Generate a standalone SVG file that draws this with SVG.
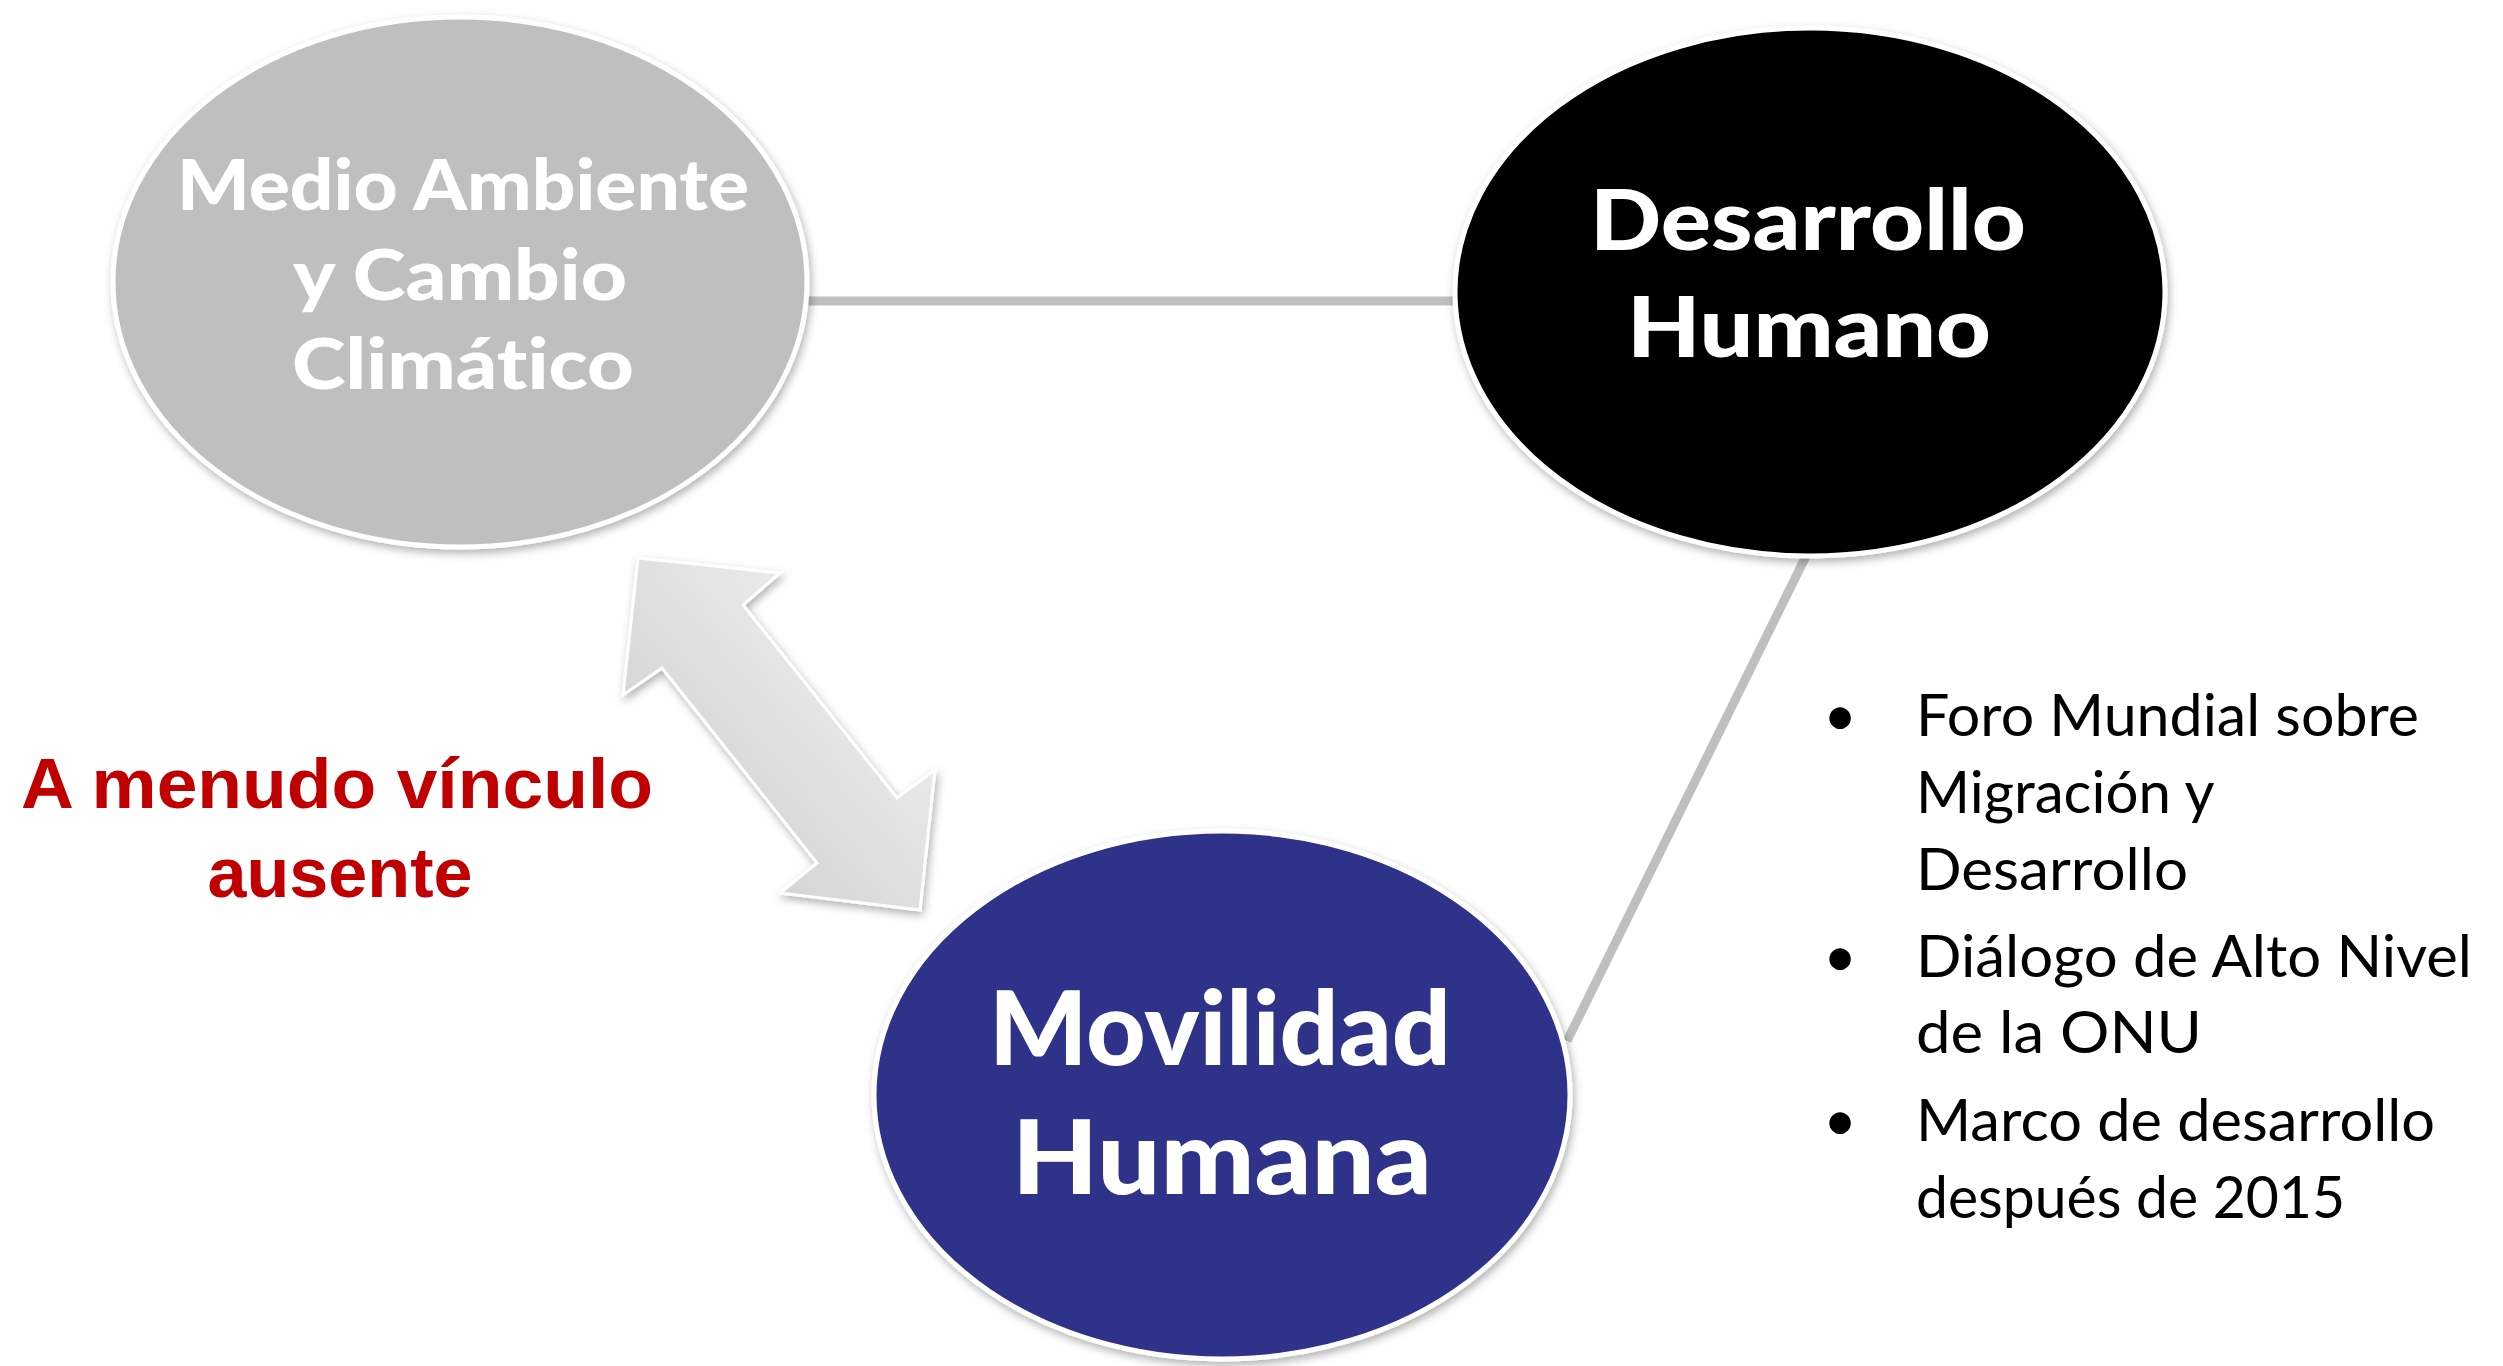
<svg xmlns="http://www.w3.org/2000/svg" width="2503" height="1366" viewBox="0 0 2503 1366">
<defs>
<filter id="sh" x="-10%" y="-10%" width="120%" height="125%">
<feDropShadow dx="2" dy="4" stdDeviation="4" flood-color="#000" flood-opacity="0.3"/>
</filter>
<linearGradient id="ag" x1="0" y1="1" x2="1" y2="0">
<stop offset="0" stop-color="#c8c8c8"/>
<stop offset="1" stop-color="#f7f7f7"/>
</linearGradient>
<style>
text{font-variant-ligatures:none}
.node{stroke:#fff;stroke-width:5;filter:url(#sh)}
.ttl{font-family:Lato,"Open Sans","DejaVu Sans",sans-serif;font-weight:900;fill:#fff;text-anchor:middle}
.conn{stroke:#bfbfbf;stroke-width:9;fill:none}
.bl{font-family:Lato,"Open Sans","DejaVu Sans",sans-serif;font-size:58px;fill:#000}
.red{font-family:"Liberation Sans",Arial,sans-serif;font-weight:700;font-size:70px;fill:#c00000;text-anchor:middle}
</style>
</defs>
<rect width="2503" height="1366" fill="#fff"/>
<g id="connectors">
<line class="conn" x1="800" y1="301" x2="1460" y2="301"/>
<line class="conn" x1="1808" y1="552" x2="1567" y2="1041"/>
<polygon points="638,558 780,573 743,605 897,798 935,770 920,910 780,893 817,863 662,668 623,695" fill="url(#ag)" stroke="#fff" stroke-width="3" filter="url(#sh)"/>
</g>
<g id="node-medio">
<ellipse class="node" cx="460" cy="282" rx="347" ry="265" fill="#bfbfbf"/>
<text class="ttl" font-size="70"><tspan x="463" y="210" textLength="572" lengthAdjust="spacingAndGlyphs">Medio Ambiente</tspan><tspan x="460" y="300" textLength="334" lengthAdjust="spacingAndGlyphs">y Cambio</tspan><tspan x="463" y="389" textLength="342" lengthAdjust="spacingAndGlyphs">Climático</tspan></text>
</g>
<g id="node-desarrollo">
<ellipse class="node" cx="1810" cy="292" rx="355" ry="264" fill="#000"/>
<text class="ttl" font-size="84"><tspan x="1808" y="250" textLength="436" lengthAdjust="spacingAndGlyphs">Desarrollo</tspan><tspan x="1809" y="357" textLength="364" lengthAdjust="spacingAndGlyphs">Humano</tspan></text>
</g>
<g id="node-movilidad">
<ellipse class="node" cx="1222" cy="1095" rx="348" ry="264" fill="#2e3089"/>
<text class="ttl" font-size="102"><tspan x="1220" y="1065" textLength="462" lengthAdjust="spacingAndGlyphs">Movilidad</tspan><tspan x="1222" y="1194" textLength="420" lengthAdjust="spacingAndGlyphs">Humana</tspan></text>
</g>
<g id="label-vinculo">
<text class="red"><tspan x="337" y="808" textLength="632" lengthAdjust="spacingAndGlyphs">A menudo vínculo</tspan><tspan x="340" y="897" textLength="265" lengthAdjust="spacingAndGlyphs">ausente</tspan></text>
</g>
<g id="bullets">
<text class="bl" text-anchor="middle"><tspan x="1840" y="736">•</tspan><tspan x="1840" y="977">•</tspan><tspan x="1840" y="1141">•</tspan></text>
<text class="bl">
<tspan x="1916" y="736" textLength="503" lengthAdjust="spacingAndGlyphs">Foro Mundial sobre</tspan>
<tspan x="1916" y="813" textLength="297" lengthAdjust="spacingAndGlyphs">Migración y</tspan>
<tspan x="1916" y="890" textLength="272" lengthAdjust="spacingAndGlyphs">Desarrollo</tspan>
<tspan x="1916" y="977" textLength="556" lengthAdjust="spacingAndGlyphs">Diálogo de Alto Nivel</tspan>
<tspan x="1916" y="1053" textLength="286" lengthAdjust="spacingAndGlyphs">de la ONU</tspan>
<tspan x="1916" y="1141" textLength="519" lengthAdjust="spacingAndGlyphs">Marco de desarrollo</tspan>
<tspan x="1916" y="1218" textLength="429" lengthAdjust="spacingAndGlyphs">después de 2015</tspan>
</text>
</g>
</svg>
